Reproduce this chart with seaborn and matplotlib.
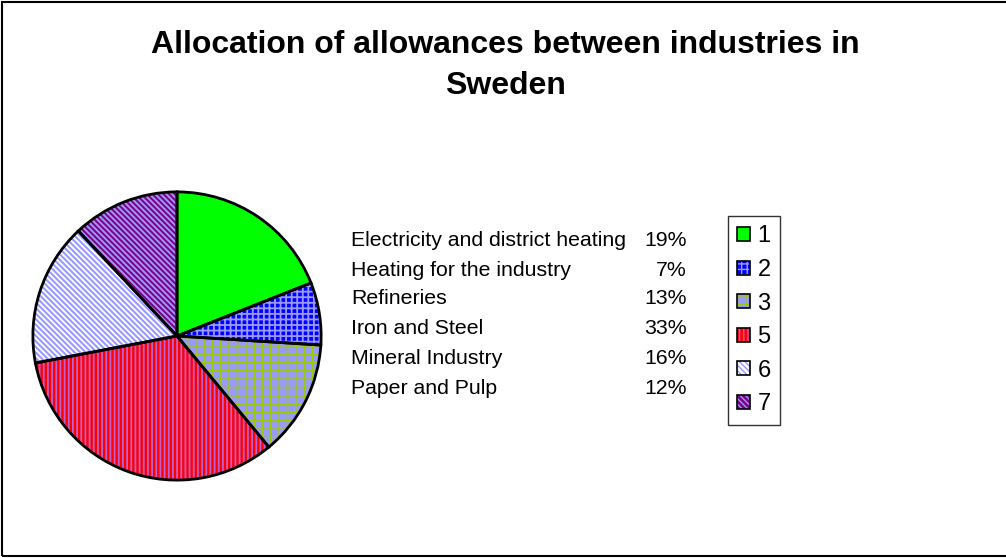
import matplotlib
matplotlib.use("Agg")
import matplotlib.pyplot as plt
import matplotlib.patches as mpatches
from matplotlib.legend_handler import HandlerTuple
import seaborn as sns

sns.set_theme(style="white")
plt.rcParams["font.family"] = ["Liberation Sans", "DejaVu Sans"]
plt.rcParams["text.color"] = "black"

# Share of allowances per industry (percent)
industries = [
    "Electricity and district heating",
    "Heating for the industry",
    "Refineries",
    "Iron and Steel",
    "Mineral Industry",
    "Paper and Pulp",
]
shares = [19, 7, 13, 33, 16, 12]
legend_labels = ["1", "2", "3", "5", "6", "7"]

# Fill colour, hatch pattern and hatch colour per slice
face_colors = ["#00FF00", "#0000FF", "#9999FF", "#FF0000", "#FFFFFF", "#800080"]
hatches = [None, "+++", "++", "||||", "\\" * 6, "\\" * 6]
hatch_colors = ["#00FF00", "#9999FF", "#99CC00", "#C060D0", "#9999FF", "#9999FF"]
hatch_widths = [1.0, 1.3, 1.1, 1.3, 1.5, 1.4]


def styled_patch(patch, fc, hc, ht, hw):
    patch.set_facecolor(fc)
    patch.set_edgecolor(hc)
    patch.set_linewidth(0)
    if ht:
        patch.set_hatch(ht)
        if hasattr(patch, "set_hatch_linewidth"):
            patch.set_hatch_linewidth(hw)
    return patch


W, H = 1006, 558
fig = plt.figure(figsize=(W / 100, H / 100), dpi=100)
fig.patch.set_facecolor("white")

# Outer frame
fig.add_artist(mpatches.Rectangle((2 / W, 2 / H), 1.2, (H - 3.5) / H,
                                  transform=fig.transFigure, fill=False,
                                  edgecolor="black", linewidth=1.5))

fig.text(505 / W, 1 - 45 / H, "Allocation of allowances between industries in",
         ha="center", va="center", fontsize=23, fontweight="bold")
fig.text(505 / W, 1 - 86 / H, "Sweden",
         ha="center", va="center", fontsize=23, fontweight="bold")

# Pie
cx, cy, r = 177, 336, 147
ax = fig.add_axes([(cx - r) / W, (H - cy - r) / H, 2 * r / W, 2 * r / H])
wedges, _ = ax.pie(shares, startangle=90, counterclock=False,
                   colors=face_colors, wedgeprops=dict(linewidth=0))
for w, fc, hc, ht, hw in zip(wedges, face_colors, hatch_colors, hatches, hatch_widths):
    styled_patch(w, fc, hc, ht, hw)
outline, _ = ax.pie(shares, startangle=90, counterclock=False,
                    colors=["none"] * len(shares),
                    wedgeprops=dict(linewidth=2.0, edgecolor="black", facecolor="none"))
ax.set_xlim(-1.02, 1.02)
ax.set_ylim(-1.02, 1.02)
ax.axis("off")

# Category list with percentages
row_y = [241, 270, 299, 328, 358, 389]
for name, val, y in zip(industries, shares, row_y):
    fig.text(351 / W, 1 - y / H, name, ha="left", va="center", fontsize=15.3)
    fig.text(687 / W, 1 - y / H, f"{val}%", ha="right", va="center", fontsize=15.3)

# Legend: hatched swatch with a black outline on top
handles = []
for fc, hc, ht, hw in zip(face_colors, hatch_colors, hatches, hatch_widths):
    swatch = styled_patch(mpatches.Rectangle((0, 0), 1, 1), fc, hc, ht, hw)
    border = mpatches.Rectangle((0, 0), 1, 1, facecolor="none",
                                edgecolor="black", linewidth=1.2)
    handles.append((swatch, border))
leg = fig.legend(handles, legend_labels, loc="upper left",
                 handler_map={tuple: HandlerTuple(ndivide=1, pad=0)},
                 bbox_to_anchor=(728 / W, 1 - 216 / H),
                 frameon=True, fancybox=False, fontsize=17,
                 handlelength=0.55, handleheight=0.55, handletextpad=0.3,
                 labelspacing=0.49, borderpad=0.4, borderaxespad=0)
leg.get_frame().set_edgecolor("black")
leg.get_frame().set_linewidth(1.0)

fig.savefig("out.png", dpi=100, facecolor="white")
